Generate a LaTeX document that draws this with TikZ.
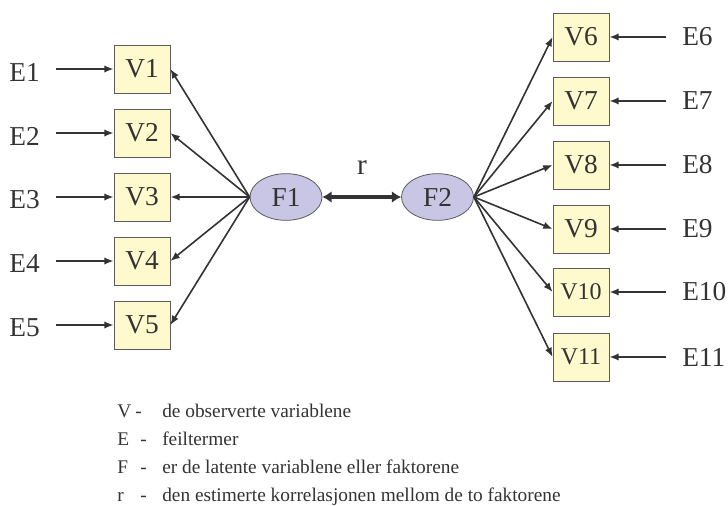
\documentclass[tikz,border=0pt]{standalone}
\usepackage{fontspec}
\setmainfont{Liberation Serif}
\usetikzlibrary{arrows.meta,shapes.geometric}

\definecolor{boxfill}{RGB}{255,250,205}
\definecolor{facfill}{RGB}{200,198,228}
\definecolor{ink}{RGB}{51,51,51}

\begin{document}
\begin{tikzpicture}[
  x=.75pt, y=-.75pt,
  font=\fontsize{20.5}{24}\selectfont, text=ink,
  var/.style={rectangle, draw=ink!80, fill=boxfill, line width=.6pt,
    minimum width=42pt, minimum height=36pt, inner sep=0pt},
  fac/.style={ellipse, draw=ink!80, fill=facfill, line width=.6pt,
    minimum width=54pt, minimum height=35pt, inner sep=0pt},
  err/.style={inner sep=0pt},
  load/.style={draw=ink, line width=1.2pt, -{Latex[length=7pt,width=5.5pt]}},
  corr/.style={draw=ink, line width=2.5pt, {Latex[length=7pt,width=9pt]}-{Latex[length=7pt,width=9pt]}},
  key/.style={font=\fontsize{14.5}{17}\selectfont, anchor=base west, inner sep=0pt}
]
\useasboundingbox (0,0) rectangle (728,506);

% factors
\node[fac] (F1) at (286,197) {F1};
\node[fac] (F2) at (437.5,197) {F2};
\draw[corr] (F1) -- (F2);
\node[font=\fontsize{22}{26}\selectfont] (rlab) at (362,168) {r};

% left side
\foreach \i/\y in {1/69,2/133,3/197,4/261,5/325} {
  \node[var] (V\i) at (142,\y) {V\i};
  \node[err, anchor=east] (E\i) at (40,\y+3) {E\i};
  \draw[load, shorten <=12pt] (E\i.east |- V\i.west) -- (V\i.west);
  \draw[load] (F1.west) -- (V\i.east);
}

% right side
\foreach \i/\y in {6/37,7/101,8/165,9/229,10/292,11/357} {
  \node[var] (V\i) at (581,\y) {\ifnum\i>9 \fontsize{18}{22}\selectfont\fi V\i};
  \node[err, anchor=west] (E\i) at (682,\y) {E\i};
  \draw[load, shorten <=12pt] (E\i.west) -- (V\i.east);
  \draw[load] (F2.east) -- (V\i.west);
}

% legend
\foreach \n/\d/\t/\y in {V/135/de observerte variablene/417,
    E/140/feiltermer/445,
    F/140/er de latente variablene eller faktorene/473,
    r/140/den estimerte korrelasjonen mellom de to faktorene/501} {
  \node[key] (key\n) at (117,\y) {\n};
  \node[key] (dash\n) at (\d,\y) {-};
  \node[key] (text\n) at (162,\y) {\t};
}

\end{tikzpicture}
\end{document}
